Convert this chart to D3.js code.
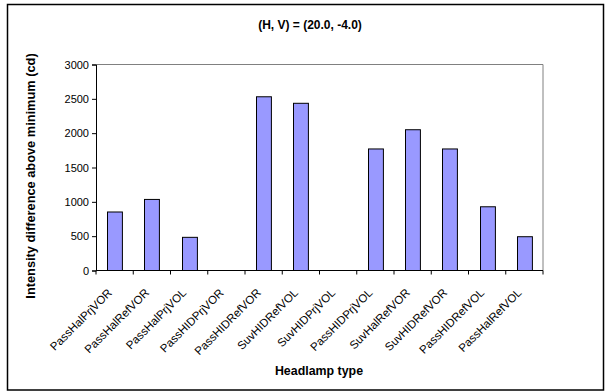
<!DOCTYPE html>
<html><head><meta charset="utf-8">
<script src="https://cdn.jsdelivr.net/npm/d3@7"></script>
<style>body{margin:0;background:#fff}svg{display:block;font-family:Arial,"Liberation Sans",sans-serif}</style>
</head><body><svg id="c" width="605" height="392"></svg>
<script>
const categories = ["PassHalPrjVOR","PassHalRefVOR","PassHalPrjVOL","PassHIDPrjVOR","PassHIDRefVOR","SuvHIDRefVOL","SuvHIDPrjVOL","PassHIDPrjVOL","SuvHalRefVOR","SuvHIDRefVOR","PassHIDRefVOL","PassHalRefVOL"];
const values = [852, 1035, 483, 0, 2530, 2435, 0, 1770, 2050, 1770, 928, 492];
const yTicks = [0, 500, 1000, 1500, 2000, 2500, 3000];
const title = "(H, V) = (20.0, -4.0)";
const xTitle = "Headlamp type";
const yTitle = "Intensity difference above minimum (cd)";

const svg = d3.select("#c");
const m = {l: 96, r: 543, t: 64.5, b: 270.5};
svg.append("rect").attr("x", 7.5).attr("y", 4.5).attr("width", 596).attr("height", 385.5)
  .attr("fill", "#fff").attr("stroke", "#000").attr("stroke-width", 1.5);

const x = d3.scaleBand().domain(categories).range([m.l, m.r]).paddingInner(0.6).paddingOuter(0.3);
const xb = d3.scaleBand().domain(categories).range([m.l, m.r]);
const y = d3.scaleLinear().domain([0, 3000]).range([m.b, m.t]);

svg.append("path").attr("d", `M${m.l},${m.t}H${m.r}V${m.b}`).attr("fill", "none").attr("stroke", "#808080").attr("stroke-width", 1);

svg.append("g").selectAll("rect").data(values).join("rect")
  .attr("x", (d, i) => Math.round(x(categories[i])) + 0.5)
  .attr("y", d => y(d))
  .attr("width", x.bandwidth())
  .attr("height", d => y(0) - y(d))
  .attr("fill", "#9999FF").attr("stroke", "#000").attr("stroke-width", 1)
  .attr("display", d => d > 0 ? null : "none");

const ya = svg.append("g").attr("transform", `translate(${m.l},0)`)
  .call(d3.axisLeft(y).tickValues(yTicks).tickSize(4).tickPadding(3).tickFormat(d3.format("d")));
ya.select(".domain").attr("stroke", "#000");
ya.selectAll("text").attr("font-size", 11).attr("fill", "#000").attr("font-family", "Arial, 'Liberation Sans', sans-serif");

const xa = svg.append("g").attr("transform", `translate(0,${m.b})`);
xa.append("line").attr("x1", m.l).attr("x2", m.r).attr("stroke", "#000");
const bounds = categories.map(c => xb(c)).concat([m.r]);
xa.selectAll("line.tk").data(bounds).join("line").attr("class", "tk")
  .attr("x1", d => d).attr("x2", d => d).attr("y1", 0).attr("y2", 4).attr("stroke", "#000");
xa.selectAll("text").data(categories).join("text")
  .attr("transform", d => `translate(${xb(d) + xb.bandwidth() / 2 - 2},${23}) rotate(-45)`)
  .attr("text-anchor", "end")
  .attr("font-size", 11.5).attr("fill", "#000").text(d => d);

svg.append("text").attr("x", 310).attr("y", 29).attr("text-anchor", "middle")
  .attr("font-size", 12).attr("font-weight", "bold").text(title);
svg.append("text").attr("x", 319).attr("y", 375).attr("text-anchor", "middle")
  .attr("font-size", 12.4).attr("font-weight", "bold").text(xTitle);
svg.append("text").attr("transform", `translate(35,176) rotate(-90)`).attr("text-anchor", "middle")
  .attr("font-size", 12.8).attr("font-weight", "bold").text(yTitle);
</script></body></html>
